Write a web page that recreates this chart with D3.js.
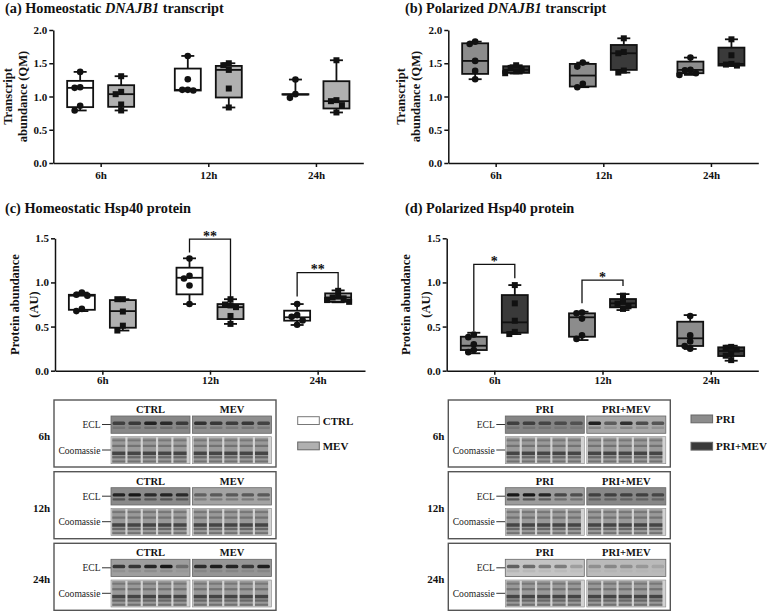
<!DOCTYPE html>
<html><head><meta charset="utf-8">
<script src="https://cdn.jsdelivr.net/npm/d3@7"></script>
<style>
body{margin:0;background:#fff}
svg{display:block}
text{font-family:"Liberation Serif","Times New Roman",serif}
</style>
</head><body>
<svg id="fig" width="767" height="611"></svg>
<script>
// ---------------- DATA ----------------
const timeLabels = ["6h", "12h", "24h"];
const transcriptTicks = [0, 0.5, 1.0, 1.5, 2.0];
const proteinTicks = [0, 0.5, 1.0, 1.5];

// box stats: [min, q1, median, q3, max] per time point
// (a) Homeostatic DNAJB1 transcript
const aCtrlBox = [[0.79, 0.84, 1.13, 1.235, 1.37], [1.09, 1.09, 1.10, 1.42, 1.61], [1.03, 1.03, 1.03, 1.035, 1.255]];
const aCtrlPts = [[1.37, 1.14, 1.13, 0.86, 0.79], [1.61, 1.26, 1.10, 1.10, 1.09], [1.255, 1.035, 0.98]];
const aMevBox = [[0.79, 0.845, 1.035, 1.17, 1.305], [0.835, 0.985, 1.40, 1.46, 1.50], [0.76, 0.82, 0.93, 1.23, 1.545]];
const aMevPts = [[1.305, 1.07, 1.035, 0.88, 0.79], [1.50, 1.47, 1.40, 1.12, 0.835], [1.545, 0.945, 0.93, 0.87, 0.76]];

// (b) Polarized DNAJB1 transcript
const bPriBox = [[1.26, 1.34, 1.535, 1.80, 1.825], [1.14, 1.15, 1.315, 1.49, 1.51], [1.325, 1.35, 1.40, 1.525, 1.585]];
const bPriPts = [[1.825, 1.79, 1.535, 1.385, 1.26], [1.51, 1.45, 1.19, 1.14], [1.585, 1.40, 1.395, 1.35, 1.325]];
const bPmBox = [[1.345, 1.355, 1.40, 1.455, 1.47], [1.36, 1.40, 1.65, 1.775, 1.875], [1.465, 1.465, 1.49, 1.735, 1.86]];
const bPmPts = [[1.47, 1.43, 1.41, 1.38, 1.35], [1.875, 1.67, 1.65, 1.39, 1.36], [1.86, 1.62, 1.49, 1.48, 1.465]];

// (c) Homeostatic Hsp40 protein
const cCtrlBox = [[0.675, 0.69, 0.85, 0.86, 0.885], [0.755, 0.865, 1.053, 1.167, 1.273], [0.518, 0.567, 0.605, 0.68, 0.755]];
const cCtrlPts = [[0.885, 0.86, 0.85, 0.70, 0.675], [1.27, 1.075, 1.045, 0.965, 0.755], [0.755, 0.63, 0.61, 0.57, 0.52]];
const cMevBox = [[0.455, 0.487, 0.675, 0.80, 0.81], [0.53, 0.585, 0.72, 0.755, 0.81], [0.775, 0.78, 0.83, 0.876, 0.91]];
const cMevPts = [[0.81, 0.81, 0.67, 0.51, 0.455], [0.81, 0.75, 0.74, 0.72, 0.62, 0.53], [0.905, 0.84, 0.83, 0.82, 0.80, 0.78]];

// (d) Polarized Hsp40 protein
const dPriBox = [[0.197, 0.234, 0.283, 0.385, 0.43], [0.347, 0.385, 0.605, 0.65, 0.668], [0.246, 0.28, 0.367, 0.555, 0.63]];
const dPriPts = [[0.41, 0.38, 0.30, 0.235, 0.21], [0.66, 0.65, 0.59, 0.40, 0.36], [0.62, 0.40, 0.33, 0.28, 0.25]];
const dPmBox = [[0.415, 0.43, 0.548, 0.857, 0.97], [0.687, 0.718, 0.763, 0.812, 0.868], [0.113, 0.166, 0.223, 0.265, 0.283]];
const dPmPts = [[0.97, 0.763, 0.566, 0.44, 0.415], [0.85, 0.78, 0.76, 0.73, 0.70], [0.27, 0.26, 0.24, 0.19, 0.17, 0.12]];

// significance brackets: time, bracket top, left leg end, right leg end, label
const cSigTimes = ["12h", "24h"], cSigTop = [1.49, 1.11], cSigLeft = [1.34, 0.84], cSigRight = [0.83, 0.93], cSigLabel = ["**", "**"];
const dSigTimes = ["6h", "12h"], dSigTop = [1.205, 1.027], dSigLeft = [0.45, 0.763], dSigRight = [1.046, 0.96], dSigLabel = ["*", "*"];

// western blot panel
const blotTimes = ["6h", "12h", "24h"];
const leftHeaders = ["CTRL", "MEV"], rightHeaders = ["PRI", "PRI+MEV"];
const eclCtrl = [[0.6, 0.65, 0.85, 0.8, 0.65], [0.85, 0.95, 0.8, 0.85, 0.8], [0.75, 0.75, 0.85, 0.95, 0.35]];
const eclMev = [[0.75, 0.7, 0.65, 0.7, 0.6], [0.45, 0.5, 0.5, 0.5, 0.5], [0.8, 0.9, 0.85, 0.7, 0.9]];
const eclPri = [[0.6, 0.6, 0.55, 0.5, 0.45], [0.95, 0.95, 0.85, 0.6, 0.55], [0.55, 0.5, 0.4, 0.4, 0.2]];
const eclPm = [[0.9, 0.5, 0.8, 0.6, 0.55], [0.6, 0.6, 0.6, 0.6, 0.55], [0.25, 0.3, 0.25, 0.2, 0.12]];
const eclBgLeft = [["#878787", "#8f8f8f"], ["#8a8a8a", "#a3a3a3"], ["#9e9e9e", "#959595"]];
const eclBgRight = [["#858585", "#a8a8a8"], ["#9c9c9c", "#878787"], ["#c4c4c4", "#bababa"]];
const eclSecondBand = [0.3, 0.6, 0.15];

// legend
const leftLegend = ["CTRL", "MEV"], rightLegend = ["PRI", "PRI+MEV"];
const fillColor = {CTRL: "#ffffff", MEV: "#b0b0b0", PRI: "#8c8c8c", "PRI+MEV": "#3a3a3a"};
const shapeOf = {CTRL: "circle", MEV: "square", PRI: "circle", "PRI+MEV": "square"};

// ---------------- DRAWING ----------------
const svg = d3.select("#fig");
const FONT = '"Liberation Serif","Times New Roman",serif';

function dodge(vals, y, step, minDist) {
  const pts = vals.map(v => ({v, y: y(v)})).sort((a, b) => a.y - b.y);
  const placed = [];
  const cands = [0, -step, step, -2 * step, 2 * step, -3 * step, 3 * step];
  pts.forEach(p => {
    p.dx = 0;
    for (const dx of cands) {
      if (placed.every(q => Math.hypot(q.dx - dx, q.y - p.y) >= minDist)) { p.dx = dx; break; }
    }
    placed.push(p);
  });
  return pts;
}

function panel(o) {
  const g = svg.append("g");
  const x = d3.scalePoint().domain(timeLabels).range([o.x0, o.x1]).padding(0.44);
  const sub = d3.scalePoint().domain(o.groups).range([-20.5, 20.5]);
  const y = d3.scaleLinear().domain([0, o.yMax]).range([o.yBottom, o.yTop]);

  const t = g.append("text").attr("x", o.titleX).attr("y", o.titleY)
    .attr("font-size", 14.3).attr("font-weight", "bold").attr("fill", "#111");
  o.title.forEach(([s, it]) => t.append("tspan").text(s).attr("font-style", it ? "italic" : "normal"));

  const yMid = (o.yTop + o.yBottom) / 2;
  o.yLabel.forEach((s, i) => {
    g.append("text").attr("transform", `translate(${o.yLabelX[i]},${yMid}) rotate(-90)`)
      .attr("text-anchor", "middle").attr("dominant-baseline", "central")
      .attr("font-size", 12.5).attr("font-weight", "bold").attr("fill", "#111").text(s);
  });

  const ya = g.append("g").attr("transform", `translate(${o.x0},0)`)
    .call(d3.axisLeft(y).tickValues(o.ticks).tickFormat(d3.format(".1f")).tickSize(4).tickPadding(2).tickSizeOuter(0));
  const xa = g.append("g").attr("transform", `translate(0,${o.yBottom})`)
    .call(d3.axisBottom(x).tickSize(4).tickPadding(o.xPad).tickSizeOuter(0));
  [ya, xa].forEach(a => {
    a.attr("font-family", FONT).attr("font-size", 11).attr("font-weight", "bold");
    a.selectAll("path,line").attr("stroke", "#111").attr("stroke-width", 1.5);
    a.selectAll("text").attr("fill", "#111");
  });

  const bw = 26, cw = 13;
  o.groups.forEach((grp, gi) => {
    const boxes = o.boxes[gi], pts = o.points[gi];
    timeLabels.forEach((tl, ti) => {
      const [mn, q1, md, q3, mx] = boxes[ti];
      const cx = x(tl) + sub(grp);
      const bg = g.append("g");
      bg.append("line").attr("x1", cx).attr("x2", cx).attr("y1", y(mx)).attr("y2", y(q3));
      bg.append("line").attr("x1", cx).attr("x2", cx).attr("y1", y(q1)).attr("y2", y(mn));
      if (mx > q3) bg.append("line").attr("x1", cx - cw / 2).attr("x2", cx + cw / 2).attr("y1", y(mx)).attr("y2", y(mx));
      if (mn < q1) bg.append("line").attr("x1", cx - cw / 2).attr("x2", cx + cw / 2).attr("y1", y(mn)).attr("y2", y(mn));
      bg.append("rect").attr("x", cx - bw / 2).attr("width", bw).attr("y", y(q3)).attr("height", Math.max(0.01, y(q1) - y(q3)))
        .attr("fill", fillColor[grp]);
      bg.append("line").attr("x1", cx - bw / 2).attr("x2", cx + bw / 2).attr("y1", y(md)).attr("y2", y(md));
      bg.selectAll("line,rect").attr("stroke", "#111").attr("stroke-width", 1.8);

      const pl = dodge(pts[ti], y, 5.5, 5.4);
      pl.forEach(p => {
        if (shapeOf[grp] === "circle") {
          g.append("circle").attr("cx", cx + p.dx).attr("cy", p.y).attr("r", 3.3).attr("fill", "#111");
        } else {
          g.append("rect").attr("x", cx + p.dx - 3).attr("y", p.y - 3).attr("width", 6).attr("height", 6).attr("fill", "#111");
        }
      });
    });
  });

  if (o.sig) {
    o.sig.times.forEach((tl, i) => {
      const lx = x(tl) + sub(o.groups[0]), rx = x(tl) + sub(o.groups[1]);
      g.append("path").attr("d", `M${lx},${y(o.sig.left[i])}V${y(o.sig.top[i])}H${rx}V${y(o.sig.right[i])}`)
        .attr("fill", "none").attr("stroke", "#111").attr("stroke-width", 1.3);
      g.append("text").attr("x", (lx + rx) / 2).attr("y", y(o.sig.top[i]) + 1.5).attr("text-anchor", "middle")
        .attr("font-size", 14).attr("font-weight", "bold").attr("fill", "#111").text(o.sig.label[i]);
    });
  }
}

panel({x0: 53.3, x1: 363.3, yTop: 30, yBottom: 163, yMax: 2.0, ticks: transcriptTicks, xPad: 4,
  titleX: 5, titleY: 13, title: [["(a) Homeostatic ", false], ["DNAJB1", true], [" transcript", false]],
  yLabel: ["Transcript", "abundance (QM)"], yLabelX: [8, 23],
  groups: ["CTRL", "MEV"], boxes: [aCtrlBox, aMevBox], points: [aCtrlPts, aMevPts]});
panel({x0: 448.3, x1: 758.3, yTop: 30, yBottom: 163, yMax: 2.0, ticks: transcriptTicks, xPad: 4,
  titleX: 405, titleY: 13, title: [["(b) Polarized ", false], ["DNAJB1", true], [" transcript", false]],
  yLabel: ["Transcript", "abundance (QM)"], yLabelX: [401, 416],
  groups: ["PRI", "PRI+MEV"], boxes: [bPriBox, bPmBox], points: [bPriPts, bPmPts]});
panel({x0: 55, x1: 365, yTop: 238.3, yBottom: 370.7, yMax: 1.5, ticks: proteinTicks, xPad: 1.5,
  titleX: 5, titleY: 213, title: [["(c) Homeostatic Hsp40 protein", false]],
  yLabel: ["Protein abundance", "(AU)"], yLabelX: [15, 34],
  groups: ["CTRL", "MEV"], boxes: [cCtrlBox, cMevBox], points: [cCtrlPts, cMevPts],
  sig: {times: cSigTimes, top: cSigTop, left: cSigLeft, right: cSigRight, label: cSigLabel}});
panel({x0: 446.7, x1: 758.3, yTop: 238.3, yBottom: 370.7, yMax: 1.5, ticks: proteinTicks, xPad: 1.5,
  titleX: 405, titleY: 213, title: [["(d) Polarized Hsp40 protein", false]],
  yLabel: ["Protein abundance", "(AU)"], yLabelX: [406, 426],
  groups: ["PRI", "PRI+MEV"], boxes: [dPriBox, dPmBox], points: [dPriPts, dPmPts],
  sig: {times: dSigTimes, top: dSigTop, left: dSigLeft, right: dSigRight, label: dSigLabel}});

// ---------------- BLOTS ----------------
const frameTops = [400, 471.7, 543.3], frameH = 67, frameW = 222;
const stripX = [57, 138.5], stripW = 79;
function blotPanel(fx, headers, ecls, bgs) {
  const g = svg.append("g");
  blotTimes.forEach((tl, k) => {
    const f = frameTops[k];
    g.append("rect").attr("x", fx).attr("y", f).attr("width", frameW).attr("height", frameH)
      .attr("fill", "#fff").attr("stroke", "#555").attr("stroke-width", 1.4);
    g.append("text").attr("x", fx - 4).attr("y", f + 36).attr("text-anchor", "end").attr("dominant-baseline", "central")
      .attr("font-size", 11).attr("font-weight", "bold").attr("fill", "#111").text(tl);
    [["ECL", f + 24.5], ["Coomassie", f + 50]].forEach(([s, yy]) => {
      g.append("text").attr("x", fx + 46.5).attr("y", yy).attr("text-anchor", "end").attr("dominant-baseline", "central")
        .attr("font-size", 9.6).attr("fill", "#222").text(s);
      g.append("line").attr("x1", fx + 48).attr("x2", fx + 57).attr("y1", yy).attr("y2", yy).attr("stroke", "#333").attr("stroke-width", 1);
    });
    headers.forEach((h, j) => {
      const sx = fx + stripX[j];
      g.append("text").attr("x", sx + stripW / 2).attr("y", f + 9.5).attr("text-anchor", "middle").attr("dominant-baseline", "central")
        .attr("font-size", 10.5).attr("font-weight", "bold").attr("fill", "#111").text(h);
      // ECL strip
      const ey = f + 16, eh = 17.3;
      g.append("rect").attr("x", sx).attr("y", ey).attr("width", stripW).attr("height", eh).attr("fill", bgs[k][j])
        .attr("stroke", "#666").attr("stroke-width", 0.8);
      const laneW = stripW / 5;
      ecls[j][k].forEach((v, l) => {
        const lx = sx + laneW * l + laneW * 0.1;
        g.append("rect").attr("x", lx).attr("y", ey + 5.5).attr("width", laneW * 0.8).attr("height", 3.4)
          .attr("rx", 1.5).attr("fill", "#111").attr("opacity", v);
        g.append("rect").attr("x", lx).attr("y", ey + 10.5).attr("width", laneW * 0.8).attr("height", 2.4)
          .attr("rx", 1).attr("fill", "#222").attr("opacity", v * eclSecondBand[k]);
      });
      // Coomassie strip
      const cy = f + 36.7, ch = 27;
      g.append("rect").attr("x", sx).attr("y", cy).attr("width", stripW).attr("height", ch).attr("fill", "#d2d2d2")
        .attr("stroke", "#888").attr("stroke-width", 0.6);
      for (let l = 0; l < 5; l++) {
        const lx = sx + 1.2 + l * (stripW - 2.4) / 5, lw = (stripW - 2.4) / 5 - 2.2;
        g.append("rect").attr("x", lx).attr("y", cy + 0.8).attr("width", lw).attr("height", ch - 1.6).attr("fill", "#999");
        [[0.1, 2, 0.3], [0.3, 2.2, 0.35], [0.55, 3.5, 0.75], [0.72, 2.2, 0.45], [0.88, 2, 0.35]].forEach(([p, hh, op]) => {
          g.append("rect").attr("x", lx).attr("y", cy + ch * p).attr("width", lw).attr("height", hh).attr("fill", "#2a2a2a").attr("opacity", op);
        });
      }
    });
  });
}
blotPanel(54, leftHeaders, [eclCtrl, eclMev], eclBgLeft);
blotPanel(448.3, rightHeaders, [eclPri, eclPm], eclBgRight);

// legends
function legend(lx, tops, names) {
  names.forEach((n, i) => {
    svg.append("rect").attr("x", lx).attr("y", tops[i]).attr("width", 21.6).attr("height", 7.8)
      .attr("fill", fillColor[n]).attr("stroke", n === "CTRL" ? "#777" : "#666").attr("stroke-width", 1);
    svg.append("text").attr("x", lx + 25).attr("y", tops[i] + 4).attr("dominant-baseline", "central")
      .attr("font-size", 11).attr("font-weight", "bold").attr("fill", "#111").text(n);
  });
}
legend(297.7, [416.7, 442], leftLegend);
legend(691, [415, 442.3], rightLegend);
</script>
</body></html>
